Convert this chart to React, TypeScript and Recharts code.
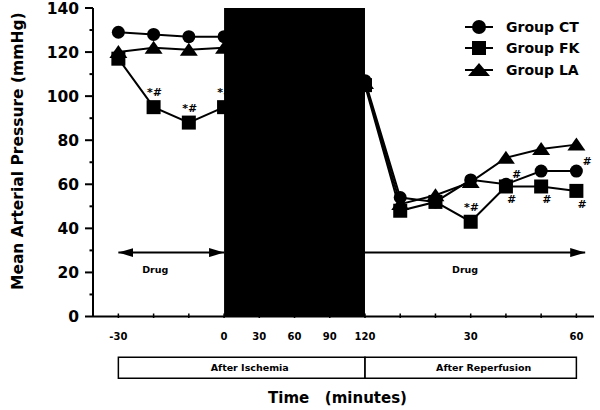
import {
  LabelList,
  Legend,
  Line,
  LineChart,
  ReferenceArea,
  ReferenceLine,
  XAxis,
  YAxis,
} from "recharts";

const FONT = '"DejaVu Sans", sans-serif';

// x positions are evenly spaced slots: -30,-20,-10,0 | 30,60,90,120 (ischemia) | R10..R60
const timeLabels = ["-30", "", "", "0", "30", "60", "90", "120", "", "", "30", "", "", "60"];
const groupCT = [129, 128, 127, 127, null, null, null, 107, 54, 52, 62, 60, 66, 66];
const groupFK = [117, 95, 88, 95, null, null, null, 105, 48, 52, 43, 59, 59, 57];
const groupLA = [120, 122, 121, 122, null, null, null, 106, 51, 55, 61, 72, 76, 78];

const fkAbove = ["", "*#", "*#", "*#", "", "", "", "", "", "", "*#", "", "", ""];
const fkBelow = ["", "", "", "", "", "", "", "", "", "", "", "#", "#", "#"];
const ctMarks = ["", "", "", "", "", "", "", "", "", "", "", "#", "", "#"];

const yTicks = [0, 10, 20, 30, 40, 50, 60, 70, 80, 90, 100, 110, 120, 130, 140];

const data = timeLabels.map((t, i) => ({
  idx: i,
  ct: groupCT[i],
  fk: groupFK[i],
  la: groupLA[i],
}));

const shapeFor: Record<string, string> = { ct: "circle", fk: "square", la: "triangle" };

function Marker({ cx, cy, kind, big }: { cx: number; cy: number; kind: string; big?: boolean }) {
  if (kind === "circle") return <circle cx={cx} cy={cy} r={big ? 7 : 6.5} fill="#000" />;
  if (kind === "square") {
    const s = 7;
    return <rect x={cx - s} y={cy - s} width={s * 2} height={s * 2} fill="#000" />;
  }
  const w = big ? 11 : 9;
  return <path d={`M${cx},${cy - 7} L${cx + w},${cy + 6} L${cx - w},${cy + 6} Z`} fill="#000" />;
}

const makeDot = (kind: string) => (p: any) => {
  if (p.cy == null || p.value == null) return <g key={`d-${kind}-${p.index}`} />;
  return (
    <g key={`d-${kind}-${p.index}`}>
      <Marker cx={p.cx} cy={p.cy} kind={kind} />
    </g>
  );
};

const XTick = (props: any) => {
  const { x, y, payload } = props;
  const label = timeLabels[payload.value] ?? "";
  return (
    <g>
      <line x1={x} x2={x} y1={y - 3} y2={y + 1.5} stroke="#000" strokeWidth={1.5} />
      {label && (
        <text x={x} y={y + 23} textAnchor="middle" fontFamily={FONT} fontWeight="bold" fontSize={10} fill="#000">
          {label}
        </text>
      )}
    </g>
  );
};

const YTick = (props: any) => {
  const { x, y, payload } = props;
  const major = payload.value % 20 === 0;
  return (
    <g>
      <line x1={x - (major ? 8 : 3.5)} x2={x} y1={y} y2={y} stroke="#000" strokeWidth={2} />
      {major && (
        <text x={x - 14} y={y} dy="0.36em" textAnchor="end" fontFamily={FONT} fontWeight="bold" fontSize={15.5} fill="#000">
          {payload.value}
        </text>
      )}
    </g>
  );
};

const markText = (marks: string[], dx: number, dy: number) => (p: any) => {
  const m = marks[p.index];
  if (!m || p.x == null || p.y == null) return null;
  return (
    <text x={p.x + dx} y={p.y + dy} textAnchor="middle" fontFamily={FONT} fontWeight="bold" fontStyle="italic" fontSize={11} fill="#000">
      {m}
    </text>
  );
};

const renderLegend = (props: any) => {
  const { payload } = props;
  return (
    <div>
      {(payload || []).map((entry: any) => (
        <div key={entry.value} style={{ display: "flex", alignItems: "center", height: 21.5 }}>
          <svg width={30} height={18}>
            <line x1={1} x2={29} y1={9} y2={9} stroke="#000" strokeWidth={2} />
            <Marker cx={15} cy={9} kind={shapeFor[entry.dataKey]} big />
          </svg>
          <span style={{ marginLeft: 12, fontFamily: FONT, fontWeight: "bold", fontSize: 14, color: "#000" }}>
            {entry.value}
          </span>
        </div>
      ))}
    </div>
  );
};

const drugLabel = (dx: number) => (p: any) => {
  const vb = p.viewBox || {};
  return (
    <text x={vb.x + (vb.width || 0) / 2 + dx} y={vb.y + 20} textAnchor="middle" fontFamily={FONT} fontWeight="bold" fontSize={9.5} fill="#000">
      Drug
    </text>
  );
};

const phaseLabel = (text: string, dx: number) => (p: any) => {
  const vb = p.viewBox || {};
  return (
    <text x={vb.x + vb.width / 2 + dx} y={vb.y + vb.height / 2} dy="0.36em" textAnchor="middle" fontFamily={FONT} fontWeight="bold" fontSize={9.5} fill="#000">
      {text}
    </text>
  );
};

export default function App() {
  return (
    <div style={{ position: "absolute", left: 0, top: 0, width: 600, height: 410, background: "#fff" }}>
      <LineChart width={600} height={410} data={data} margin={{ top: 8, right: 6, left: 0, bottom: 73.5 }}>
        <defs>
          <marker id="arrowHead" markerUnits="userSpaceOnUse" markerWidth={15} markerHeight={9} refX={15} refY={4.5} orient="auto-start-reverse">
            <path d="M0,0 L15,4.5 L0,9 Z" fill="#000" />
          </marker>
        </defs>
        <XAxis
          dataKey="idx"
          type="number"
          domain={[-0.72, 13.5]}
          ticks={timeLabels.map((_, i) => i)}
          interval={0}
          height={20}
          tickSize={0}
          tickMargin={0}
          tickLine={false}
          tick={<XTick />}
          axisLine={{ stroke: "#000", strokeWidth: 2 }}
          label={{
            content: (p: any) => {
              const vb = p.viewBox || {};
              return (
                <text x={vb.x + vb.width / 2 - 6} y={403} textAnchor="middle" fontFamily={FONT} fontWeight="bold" fontSize={15} fill="#000" style={{ whiteSpace: "pre" }}>
                  {"Time   (minutes)"}
                </text>
              );
            },
          }}
        />
        <YAxis
          type="number"
          domain={[0, 140]}
          ticks={yTicks}
          interval={0}
          width={93}
          tickSize={0}
          tickMargin={0}
          tickLine={false}
          tick={<YTick />}
          axisLine={{ stroke: "#000", strokeWidth: 2 }}
          label={{
            content: (p: any) => {
              const vb = p.viewBox || {};
              const cy = vb.y + vb.height / 2 - 11;
              return (
                <text x={17} y={cy} transform={`rotate(-90, 17, ${cy})`} dy="0.36em" textAnchor="middle" fontFamily={FONT} fontWeight="bold" fontSize={15.5} fill="#000">
                  Mean Arterial Pressure (mmHg)
                </text>
              );
            },
          }}
        />
        <Legend
          layout="vertical"
          align="center"
          verticalAlign="middle"
          wrapperStyle={{ left: 464, top: 16, width: 136, right: "auto", bottom: "auto" }}
          content={renderLegend}
        />
        <Line dataKey="ct" name="Group CT" stroke="#000" strokeWidth={2} dot={makeDot("circle")} isAnimationActive={false}>
          <LabelList dataKey="ct" content={markText(ctMarks, 10, -6)} />
        </Line>
        <Line dataKey="fk" name="Group FK" stroke="#000" strokeWidth={2} dot={makeDot("square")} isAnimationActive={false}>
          <LabelList dataKey="fk" content={markText(fkAbove, 0, -11)} />
          <LabelList dataKey="fk" content={markText(fkBelow, 5, 17)} />
        </Line>
        <Line dataKey="la" name="Group LA" stroke="#000" strokeWidth={2} dot={makeDot("triangle")} isAnimationActive={false} />
        <ReferenceArea x1={3} x2={7} y1={0} y2={140} fill="#000" fillOpacity={1} stroke="none" zIndex={1000} />
        <ReferenceLine
          segment={[{ x: 0, y: 29 }, { x: 3, y: 29 }]}
          stroke="#000"
          strokeWidth={2}
          markerStart="url(#arrowHead)"
          markerEnd="url(#arrowHead)"
          label={{ content: drugLabel(-16) }}
        />
        <ReferenceLine
          segment={[{ x: 7, y: 29 }, { x: 13.25, y: 29 }]}
          stroke="#000"
          strokeWidth={2}
          markerEnd="url(#arrowHead)"
          label={{ content: drugLabel(-10) }}
        />
        <ReferenceArea x1={0} x2={7} y1={-28} y2={-18.5} ifOverflow="visible" fill="#fff" stroke="#000" strokeWidth={1.5} label={{ content: phaseLabel("After Ischemia", 8) }} />
        <ReferenceArea x1={7} x2={13} y1={-28} y2={-18.5} ifOverflow="visible" fill="#fff" stroke="#000" strokeWidth={1.5} label={{ content: phaseLabel("After Reperfusion", 13) }} />
      </LineChart>
    </div>
  );
}
